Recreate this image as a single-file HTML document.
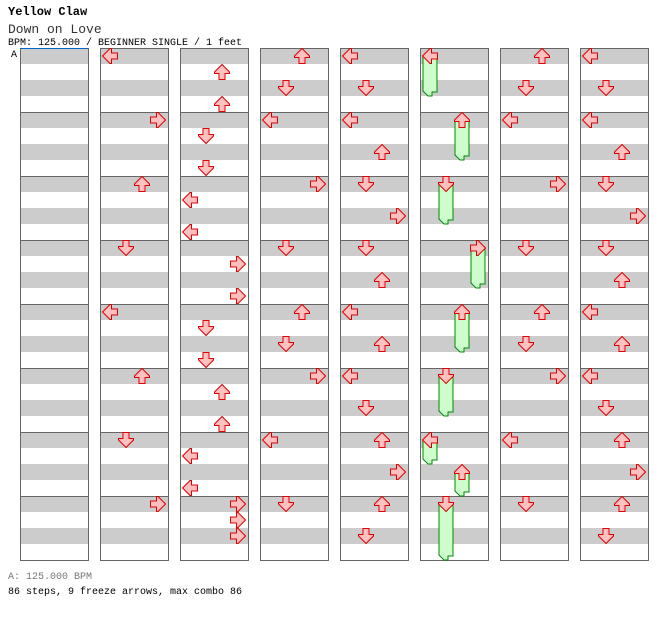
<!DOCTYPE html>
<html><head><meta charset="utf-8"><style>
body{margin:0;background:#fff;width:672px;height:620px;overflow:hidden}
svg{display:block}
text{font-family:"Liberation Mono","DejaVu Sans Mono",monospace}
</style></head><body>
<svg id="chart" width="672" height="620" xmlns="http://www.w3.org/2000/svg">
<text x="8" y="15" font-size="12" font-weight="bold">Yellow Claw</text>
<text x="8" y="33" font-size="13" fill="#333">Down on Love</text>
<text x="8" y="45" font-size="10">BPM: 125.000 / BEGINNER SINGLE / 1 feet</text>
<text x="11" y="57" font-size="10">A</text>
<text x="8" y="579" font-size="10" fill="#777">A: 125.000 BPM</text>
<text x="8" y="594" font-size="10">86 steps, 9 freeze arrows, max combo 86</text>
<g id="frames"></g><g id="freezes"></g><g id="arrows"></g>
</svg>
<script>
// global beat (column*32 + beat), lane (0=L,1=D,2=U,3=R), freeze length in beats
const beats = [
 32,36,40,44,48,52,56,60,
 65,67,69,71,73,75,77,79,81,83,85,87,89,91,92,93,94,
 96,98,100,104,108,112,114,116,120,124,
 128,130,132,134,136,138,140,142,144,146,148,150,152,154,156,158,
 160,164,168,172,176,180,184,186,188,
 192,194,196,200,204,208,210,212,216,220,
 224,226,228,230,232,234,236,238,240,242,244,246,248,250,252,254
];
const lanes = [
 0,3,2,1,0,2,1,3,
 2,2,1,1,0,0,3,3,1,1,2,2,0,0,3,3,3,
 2,1,0,3,1,2,1,3,0,1,
 0,1,0,2,1,3,1,2,0,2,0,1,2,3,2,1,
 0,2,1,3,2,1,0,2,1,
 2,1,0,3,1,2,1,3,0,1,
 0,1,0,2,1,3,1,2,0,2,0,1,2,3,2,1
];
const freezeLen = {160:2,164:2,168:2,172:2,176:2,180:2,184:1,186:1,188:3};
const NS='http://www.w3.org/2000/svg';
const colX=c=>20+80*c, laneX=l=>[10,26,42,58][l], beatY=b=>56+16*b;
const fr=document.getElementById('frames');
for(let c=0;c<8;c++){
 const x=colX(c);
 for(let s=0;s<32;s+=2){
  const r=document.createElementNS(NS,'rect');
  
  
  r.setAttribute('x',x);r.setAttribute('y',48+s*16);r.setAttribute('width',68);r.setAttribute('height',16);r.setAttribute('fill','#cccccc');fr.appendChild(r);
 }
 for(let m=1;m<8;m++){
  const l=document.createElementNS(NS,'line');
  
  
  l.setAttribute('x1',x);l.setAttribute('x2',x+68);l.setAttribute('y1',48.5+m*64);l.setAttribute('y2',48.5+m*64);l.setAttribute('stroke','#666');fr.appendChild(l);
 }
 const b=document.createElementNS(NS,'rect');
 
 
 b.setAttribute('x',x+0.5);b.setAttribute('y',48.5);b.setAttribute('width',68);b.setAttribute('height',512);b.setAttribute('fill','none');b.setAttribute('stroke','#666');fr.appendChild(b);
}
const bl=document.createElementNS(NS,'line');


bl.setAttribute('x1',20);bl.setAttribute('x2',88);bl.setAttribute('y1',48.5);bl.setAttribute('y2',48.5);bl.setAttribute('stroke','#0066cc');fr.appendChild(bl);
const fz=document.getElementById('freezes'), ar=document.getElementById('arrows');
const rot=[-90,180,0,90];
beats.forEach((g,i)=>{
 const c=Math.floor(g/32), b=g%32, l=lanes[i];
 const cx=colX(c)+laneX(l), cy=beatY(b);
 if(freezeLen[g]){
  const L=freezeLen[g]*16+4;
  const p=document.createElementNS(NS,'polygon');
  
  
  p.setAttribute('points',`${cx-7},${cy} ${cx+7},${cy} ${cx+7},${cy+L} ${cx+2},${cy+L} ${cx+2},${cy+L+4} ${cx-2},${cy+L+4} ${cx-7},${cy+L-1}`);
  p.setAttribute('fill','#ccffcc');p.setAttribute('stroke','#008800');fz.appendChild(p);
 }
 const a=document.createElementNS(NS,'polygon');
 
 
 a.setAttribute('points','0,-7.5 7.5,0 7.5,1.5 3,1.5 3,7.5 -3,7.5 -3,1.5 -7.5,1.5 -7.5,0');
 a.setAttribute('transform',`translate(${cx},${cy}) rotate(${rot[l]})`);
 a.setAttribute('fill','#ffc0c0');a.setAttribute('stroke','#e00000');a.setAttribute('stroke-width','1');
 ar.appendChild(a);
});
</script>
</body></html>
